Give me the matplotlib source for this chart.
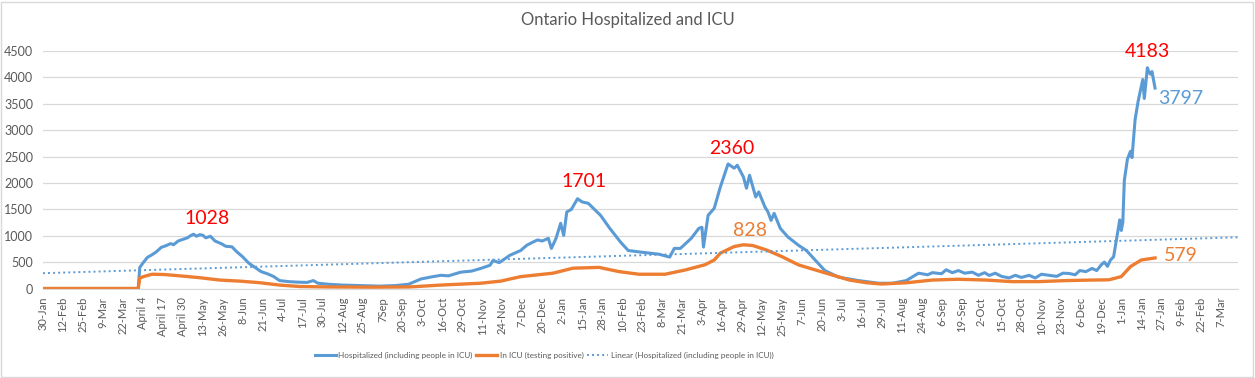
import pandas as pd
import matplotlib
matplotlib.use("Agg")
import matplotlib.pyplot as plt
from matplotlib.patches import Rectangle

plt.rcParams["font.family"] = ["Lato", "DejaVu Sans"]

BLUE = "#5B9BD5"
ORANGE = "#ED7D31"
RED = "#FF0000"
GREY = "#595959"
GRID = "#D9D9D9"

START = pd.Timestamp("2020-01-30")
N_DAYS = 779          # category axis runs to mid-March 2022
TICK_STEP = 13

tick_labels = [
    "30-Jan", "12-Feb", "25-Feb", "9-Mar", "22-Mar", "April 4", "April 17",
    "April 30", "13-May", "26-May", "8-Jun", "21-Jun", "4-Jul", "17-Jul",
    "30-Jul", "12-Aug", "25-Aug", "7Sep", "20-Sep", "3-Oct", "16-Oct",
    "29-Oct", "11-Nov", "24-Nov", "7-Dec", "20-Dec", "2-Jan", "15-Jan",
    "28-Jan", "10-Feb", "23-Feb", "8-Mar", "21-Mar", "3-Apr", "16-Apr",
    "29-Apr", "12-May", "25-May", "7-Jun", "20-Jun", "3-Jul", "16-Jul",
    "29-Jul", "11-Aug", "24-Aug", "6-Sep", "19-Sep", "2-Oct", "15-Oct",
    "28-Oct", "10-Nov", "23-Nov", "6-Dec", "19-Dec", "1-Jan", "14-Jan",
    "27-Jan", "9-Feb", "22-Feb", "7-Mar",
]

# hospitalized (including people in ICU)
hospitalized = [
    ("2020-01-30", 0), ("2020-04-01", 0), ("2020-04-02", 400), ("2020-04-04", 480),
    ("2020-04-07", 590), ("2020-04-10", 640), ("2020-04-13", 700), ("2020-04-16", 780),
    ("2020-04-19", 810), ("2020-04-22", 850), ("2020-04-24", 830), ("2020-04-27", 900),
    ("2020-04-30", 930), ("2020-05-03", 960), ("2020-05-05", 1000), ("2020-05-07", 1028),
    ("2020-05-09", 990), ("2020-05-11", 1020), ("2020-05-13", 1010), ("2020-05-15", 960),
    ("2020-05-18", 990), ("2020-05-21", 900), ("2020-05-25", 850), ("2020-05-28", 800),
    ("2020-06-01", 790), ("2020-06-04", 700), ("2020-06-08", 600), ("2020-06-12", 480),
    ("2020-06-16", 400), ("2020-06-20", 320), ("2020-06-24", 280), ("2020-06-28", 230),
    ("2020-07-02", 150), ("2020-07-08", 130), ("2020-07-14", 120), ("2020-07-20", 115),
    ("2020-07-24", 150), ("2020-07-27", 100), ("2020-08-03", 80), ("2020-08-12", 65),
    ("2020-08-24", 55), ("2020-09-05", 45), ("2020-09-15", 55), ("2020-09-24", 80),
    ("2020-10-02", 180), ("2020-10-09", 220), ("2020-10-15", 250), ("2020-10-20", 240),
    ("2020-10-28", 310), ("2020-11-04", 330), ("2020-11-10", 380), ("2020-11-16", 440),
    ("2020-11-18", 530), ("2020-11-22", 490), ("2020-11-29", 630), ("2020-12-06", 720),
    ("2020-12-10", 820), ("2020-12-14", 880), ("2020-12-17", 920), ("2020-12-20", 900),
    ("2020-12-24", 950), ("2020-12-26", 760), ("2020-12-29", 950), ("2021-01-01", 1235),
    ("2021-01-03", 1006), ("2021-01-05", 1450), ("2021-01-08", 1500), ("2021-01-12", 1701),
    ("2021-01-15", 1640), ("2021-01-19", 1614), ("2021-01-23", 1500), ("2021-01-27", 1386),
    ("2021-02-02", 1140), ("2021-02-09", 880), ("2021-02-14", 720), ("2021-02-22", 690),
    ("2021-03-06", 650), ("2021-03-13", 595), ("2021-03-16", 760), ("2021-03-20", 760),
    ("2021-03-27", 950), ("2021-04-01", 1140), ("2021-04-03", 1160), ("2021-04-04", 785),
    ("2021-04-07", 1386), ("2021-04-11", 1520), ("2021-04-15", 1925), ("2021-04-20", 2360),
    ("2021-04-24", 2280), ("2021-04-26", 2336), ("2021-04-30", 2114), ("2021-05-02", 1900),
    ("2021-05-04", 2146), ("2021-05-08", 1734), ("2021-05-10", 1830), ("2021-05-14", 1545),
    ("2021-05-16", 1450), ("2021-05-18", 1290), ("2021-05-20", 1424), ("2021-05-24", 1140),
    ("2021-05-29", 975), ("2021-06-05", 816), ("2021-06-10", 720), ("2021-06-16", 530),
    ("2021-06-22", 340), ("2021-07-01", 215), ("2021-07-14", 150), ("2021-07-27", 100),
    ("2021-08-05", 100), ("2021-08-14", 150), ("2021-08-22", 290), ("2021-08-28", 260),
    ("2021-08-31", 300), ("2021-09-06", 280), ("2021-09-09", 355), ("2021-09-13", 300),
    ("2021-09-17", 340), ("2021-09-21", 290), ("2021-09-26", 310), ("2021-09-30", 250),
    ("2021-10-04", 300), ("2021-10-07", 247), ("2021-10-11", 290), ("2021-10-15", 230),
    ("2021-10-20", 200), ("2021-10-24", 250), ("2021-10-28", 210), ("2021-11-02", 250),
    ("2021-11-06", 200), ("2021-11-10", 270), ("2021-11-15", 250), ("2021-11-20", 230),
    ("2021-11-24", 290), ("2021-11-28", 285), ("2021-12-02", 260), ("2021-12-05", 340),
    ("2021-12-09", 320), ("2021-12-13", 380), ("2021-12-16", 340), ("2021-12-19", 450),
    ("2021-12-21", 500), ("2021-12-23", 420), ("2021-12-25", 540), ("2021-12-27", 600),
    ("2021-12-29", 950), ("2021-12-31", 1300), ("2022-01-01", 1100), ("2022-01-02", 1250),
    ("2022-01-03", 2050), ("2022-01-05", 2450), ("2022-01-07", 2600), ("2022-01-08", 2480),
    ("2022-01-10", 3200), ("2022-01-12", 3550), ("2022-01-14", 3830), ("2022-01-15", 3960),
    ("2022-01-16", 3600), ("2022-01-18", 4183), ("2022-01-19", 4100), ("2022-01-20", 4060),
    ("2022-01-21", 4110), ("2022-01-23", 3797),
]

# in ICU (testing positive)
icu = [
    ("2020-01-30", 0), ("2020-04-01", 0), ("2020-04-02", 200), ("2020-04-05", 230),
    ("2020-04-10", 270), ("2020-04-18", 265), ("2020-04-28", 240), ("2020-05-11", 205),
    ("2020-05-24", 160), ("2020-06-06", 140), ("2020-06-19", 110), ("2020-07-02", 65),
    ("2020-07-15", 38), ("2020-08-01", 30), ("2020-09-01", 25), ("2020-09-25", 30),
    ("2020-10-15", 65), ("2020-11-10", 100), ("2020-11-23", 140), ("2020-12-06", 225),
    ("2020-12-27", 290), ("2021-01-09", 385), ("2021-01-26", 400), ("2021-02-08", 320),
    ("2021-02-21", 270), ("2021-03-10", 270), ("2021-03-23", 350), ("2021-04-05", 450),
    ("2021-04-11", 540), ("2021-04-15", 670), ("2021-04-24", 795), ("2021-04-30", 828),
    ("2021-05-06", 815), ("2021-05-15", 730), ("2021-05-25", 605), ("2021-06-05", 446),
    ("2021-06-16", 350), ("2021-06-27", 255), ("2021-07-08", 160), ("2021-07-19", 110),
    ("2021-07-29", 85), ("2021-08-08", 100), ("2021-08-14", 108), ("2021-08-31", 160),
    ("2021-09-17", 175), ("2021-10-05", 160), ("2021-10-22", 130), ("2021-11-08", 130),
    ("2021-11-26", 150), ("2021-12-13", 160), ("2021-12-24", 165), ("2022-01-01", 225),
    ("2022-01-07", 415), ("2022-01-14", 540), ("2022-01-23", 579),
]

# linear trendline of hospitalized, value at first and last category
trend_values = [290, 970]

# data labels: text, anchor date, anchor value, colour, pixel offset
callouts = [
    ("1028", "2020-05-07", 1028, RED, (14, 16)),
    ("1701", "2021-01-12", 1701, RED, (7, 17)),
    ("2360", "2021-04-20", 2360, RED, (4, 15)),
    ("828", "2021-04-30", 828, ORANGE, (7, 14)),
    ("4183", "2022-01-18", 4183, RED, (0, 16)),
    ("3797", "2022-01-23", 3797, BLUE, (26, -10)),
    ("579", "2022-01-23", 579, ORANGE, (26, 2)),
]


def to_days(pairs):
    xs = [(pd.Timestamp(d) - START).days for d, _ in pairs]
    ys = [v for _, v in pairs]
    return xs, ys


W, H = 1255, 378
fig = plt.figure(figsize=(W / 100, H / 100), dpi=100)
ax = fig.add_axes([43 / W, 1 - 288.5 / H, (1238 - 43) / W, (288.5 - 51) / H])

hx, hy = to_days(hospitalized)
ix, iy = to_days(icu)
ax.plot(hx, hy, color=BLUE, lw=2.2, solid_joinstyle="round",
        label="Hospitalized (including people in ICU)")
ax.plot(ix, iy, color=ORANGE, lw=2.4, solid_joinstyle="round",
        label="In ICU (testing positive)")
ax.plot([0, N_DAYS - 1], trend_values, color=BLUE, lw=1.4, ls=(0, (1, 1.6)),
        label="Linear (Hospitalized (including people in ICU))")

for text, d, v, col, off in callouts:
    ax.annotate(text, xy=((pd.Timestamp(d) - START).days, v), xytext=off,
                textcoords="offset pixels", ha="center", va="center",
                color=col, fontsize=14)

ax.set_xlim(0, N_DAYS - 1)
ax.set_ylim(0, 4500)
ax.set_yticks(range(0, 4501, 500))
ax.set_xticks([i * TICK_STEP for i in range(len(tick_labels))])
ax.set_xticklabels(tick_labels, rotation=90)
ax.grid(axis="y", color=GRID, lw=0.9)
ax.set_axisbelow(True)
for s in ["top", "right", "left"]:
    ax.spines[s].set_visible(False)
ax.spines["bottom"].set_color(GRID)
ax.tick_params(axis="both", length=0, colors=GREY)
ax.tick_params(axis="y", labelsize=9, pad=7)
ax.tick_params(axis="x", labelsize=8, pad=6)

fig.text(0.5, 1 - 20 / H, "Ontario Hospitalized and ICU", ha="center", va="center",
         fontsize=12, color=GREY)

fig.legend(loc="center", bbox_to_anchor=(544 / W, 1 - 355 / H), ncol=3, frameon=False,
           fontsize=5.9, handlelength=2.6, handletextpad=0.3, columnspacing=0.4,
           labelcolor=GREY)

fig.patches.append(Rectangle((0.5 / W, 1.5 / H), 1252.5 / W, 375 / H,
                             transform=fig.transFigure, fill=False,
                             edgecolor=GRID, lw=1))

fig.savefig("out.png", dpi=100)
